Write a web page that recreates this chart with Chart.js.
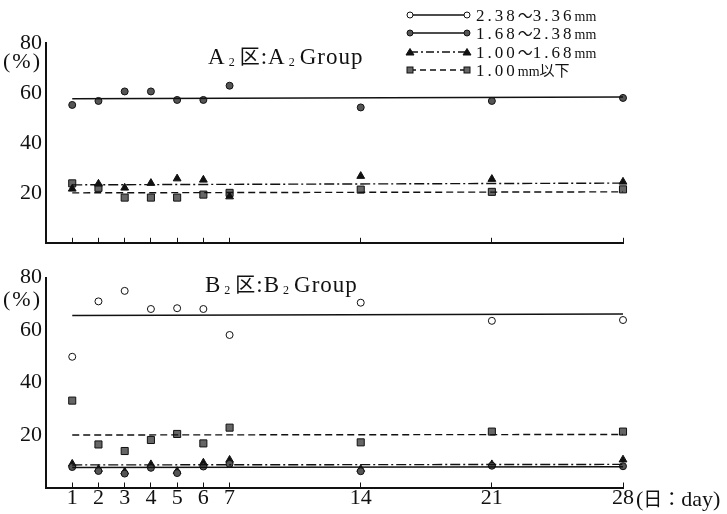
<!DOCTYPE html>
<html lang="ja">
<head>
<meta charset="UTF-8">
<title>A2 / B2 Group</title>
<script src="https://cdn.jsdelivr.net/npm/chart.js"></script>
<style>
  body { margin: 0; background: #fff; }
  .page { position: relative; width: 727px; height: 514px; overflow: hidden; font-family: 'Liberation Serif', serif; color: #111; }
  .panel { position: absolute; left: 0; width: 727px; }
  #topPanel { top: 0; height: 260px; }
  #bottomPanel { top: 260px; height: 254px; }
  .label { position: absolute; white-space: nowrap; }
  .cjk { font-family: 'Noto Sans CJK JP', sans-serif; }
  .title { font-size: 23px; line-height: 23px; letter-spacing: 1px; }
  .title sub { font-size: 12px; vertical-align: -2px; margin: 0 4px 0 3px; }
  .title .cjk { font-size: 20px; }
  .unit { font-size: 22px; line-height: 22px; letter-spacing: 2px; left: 3px; }
  .legend-row { position: absolute; left: 476px; height: 18px; line-height: 18px; font-size: 17px; letter-spacing: 3px; }
  .legend-row .mm { font-size: 14px; letter-spacing: 0; }
  .legend-row .cjk { font-size: 15px; letter-spacing: 0; }
</style>
</head>
<body>
<div class="page">
  <div class="panel" id="topPanel"><canvas id="chartA"></canvas></div>
  <div class="panel" id="bottomPanel"><canvas id="chartB"></canvas></div>

  <!-- panel titles and axis words -->
  <div class="label title" style="left:208px; top:44px;">A<sub>2</sub><span class="cjk">区</span>:A<sub>2</sub>Group</div>
  <div class="label title" style="left:205px; top:272px;">B<sub>2</sub><span class="cjk">区</span>:B<sub>2</sub>Group</div>
  <div class="label unit" style="top:50px;">(%)</div>
  <div class="label unit" style="top:288px;">(%)</div>
  <div class="label" style="left:636px; top:487px; font-size:22px; line-height:22px;">(<span class="cjk" style="font-size:19px;">日：</span>day)</div>

  <!-- legend -->
  <svg class="label" style="left:405px; top:0;" width="70" height="80">
    <g stroke="#111" stroke-width="1.3" fill="none">
      <line x1="5" y1="15" x2="62" y2="15"/>
      <line x1="5" y1="33" x2="62" y2="33"/>
      <line x1="5" y1="52" x2="62" y2="52" stroke-dasharray="8 3 2 3"/>
      <line x1="5" y1="70" x2="62" y2="70" stroke-dasharray="6 4"/>
    </g>
    <g stroke="#111" stroke-width="1">
      <circle cx="5" cy="15" r="3" fill="#fff"/><circle cx="62" cy="15" r="3" fill="#fff"/>
      <circle cx="5" cy="33" r="3" fill="#555"/><circle cx="62" cy="33" r="3" fill="#555"/>
      <polygon points="5,48.5 9,55 1,55" fill="#111"/><polygon points="62,48.5 66,55 58,55" fill="#111"/>
      <rect x="2" y="67" width="6" height="6" fill="#666"/><rect x="59" y="67" width="6" height="6" fill="#666"/>
    </g>
  </svg>
  <div class="legend-row" style="top:6px;">2.38<span class="cjk">～</span>3.36<span class="mm">mm</span></div>
  <div class="legend-row" style="top:24px;">1.68<span class="cjk">～</span>2.38<span class="mm">mm</span></div>
  <div class="legend-row" style="top:43px;">1.00<span class="cjk">～</span>1.68<span class="mm">mm</span></div>
  <div class="legend-row" style="top:61px;">1.00<span class="mm">mm</span><span class="cjk">以下</span></div>
</div>

<script>
    // axis slots: blank slots keep the uneven spacing of days 1-7 vs 14, 21, 28
    const xLabels = ['', '1', '2', '3', '4', '5', '6', '7', '', '', '', '', '14', '', '', '', '', '21', '', '', '', '', '28'];
    const days = ['1', '2', '3', '4', '5', '6', '7', '14', '21', '28'];
    const yTicks = [0, 20, 40, 60, 80];

    // A2 group (%)
    const a2Size168 = [55.2, 56.8, 60.6, 60.6, 57.2, 57.2, 62.9, 54.2, 56.8, 58.0];
    const a2Size100 = [21.6, 23.6, 22.0, 23.9, 25.7, 25.2, 18.5, 26.7, 25.5, 24.4];
    const a2Below100 = [23.8, 22.0, 18.1, 18.1, 18.1, 19.3, 20.0, 21.3, 20.4, 21.4];
    // fitted lines, value at day 1 and day 28
    const a2Size168Fit = [57.7, 58.4];
    const a2Size100Fit = [23.2, 23.9];
    const a2Below100Fit = [20.0, 20.4];

    // B2 group (%)
    const b2Size238 = [49.8, 70.9, 74.9, 68.0, 68.3, 68.0, 58.1, 70.4, 63.5, 63.8];
    const b2Size168 = [7.8, 6.3, 5.3, 7.5, 5.5, 8.0, 9.0, 6.2, 8.3, 8.1];
    const b2Size100 = [9.0, 7.0, 6.0, 8.8, 6.2, 9.4, 10.5, 7.0, 8.8, 10.6];
    const b2Below100 = [33.1, 16.4, 13.9, 18.1, 20.4, 16.8, 22.8, 17.2, 21.3, 21.3];
    const b2Size238Fit = [65.5, 66.1];
    const b2Size168Fit = [7.6, 7.9];
    const b2Size100Fit = [8.6, 8.8];
    const b2Below100Fit = [20.0, 20.2];

    // marker / line look per size class
    const looks = {
        size238: { pointStyle: 'circle', radius: 3.5, bg: '#fff', dash: [] },
        size168: { pointStyle: 'circle', radius: 3.5, bg: '#555', dash: [] },
        size100: { pointStyle: 'triangle', radius: 4.5, bg: '#111', dash: [10, 3, 2, 3] },
        below100: { pointStyle: 'rect', radius: 5, bg: '#666', dash: [7, 4] }
    };

    Chart.defaults.font.family = "'Liberation Serif', serif";
    Chart.defaults.color = '#111';

    function fitDataset(look, fit) {
        return {
            data: [{ x: days[0], y: fit[0] }, { x: days[days.length - 1], y: fit[1] }],
            borderColor: '#111',
            borderWidth: 1.4,
            borderDash: look.dash,
            pointRadius: 0,
            clip: false
        };
    }

    function pointDataset(look, values) {
        return {
            data: days.map((d, i) => ({ x: d, y: values[i] })),
            showLine: false,
            pointStyle: look.pointStyle,
            pointRadius: look.radius,
            pointBackgroundColor: look.bg,
            pointBorderColor: '#111',
            pointBorderWidth: 1,
            clip: false
        };
    }

    function makeChart(canvasId, series, topPad, xHeight, showDays) {
        const datasets = [];
        series.forEach(s => datasets.push(fitDataset(looks[s.look], s.fit)));
        series.forEach(s => datasets.push(pointDataset(looks[s.look], s.values)));

        return new Chart(document.getElementById(canvasId), {
            type: 'line',
            data: { labels: xLabels, datasets: datasets },
            options: {
                responsive: true,
                maintainAspectRatio: false,
                animation: false,
                layout: { padding: { top: topPad, right: 104, left: 0, bottom: 0 } },
                plugins: { legend: { display: false }, tooltip: { enabled: false } },
                scales: {
                    x: {
                        type: 'category',
                        offset: false,
                        border: { color: '#111', width: 2 },
                        grid: {
                            drawOnChartArea: false,
                            drawTicks: true,
                            tickLength: -5,
                            lineWidth: 1,
                            color: ctx => (ctx.tick && ctx.tick.label === '') ? 'rgba(0,0,0,0)' : '#111'
                        },
                        ticks: { display: showDays, autoSkip: false, maxRotation: 0, padding: 3, font: { size: 22 } },
                        afterFit: s => { s.height = xHeight; }
                    },
                    y: {
                        min: yTicks[0],
                        max: yTicks[yTicks.length - 1],
                        border: { color: '#111', width: 2 },
                        grid: { drawOnChartArea: false, drawTicks: false },
                        afterBuildTicks: s => { s.ticks = yTicks.map(v => ({ value: v })); },
                        ticks: {
                            padding: 4,
                            font: { size: 22 },
                            callback: v => v === 0 ? null : v
                        },
                        afterFit: s => { s.width = 46; }
                    }
                }
            }
        });
    }

    makeChart('chartA', [
        { look: 'size168', values: a2Size168, fit: a2Size168Fit },
        { look: 'size100', values: a2Size100, fit: a2Size100Fit },
        { look: 'below100', values: a2Below100, fit: a2Below100Fit }
    ], 43, 10, false);

    makeChart('chartB', [
        { look: 'size238', values: b2Size238, fit: b2Size238Fit },
        { look: 'size168', values: b2Size168, fit: b2Size168Fit },
        { look: 'size100', values: b2Size100, fit: b2Size100Fit },
        { look: 'below100', values: b2Below100, fit: b2Below100Fit }
    ], 17.5, 26.5, true);
</script>
</body>
</html>
